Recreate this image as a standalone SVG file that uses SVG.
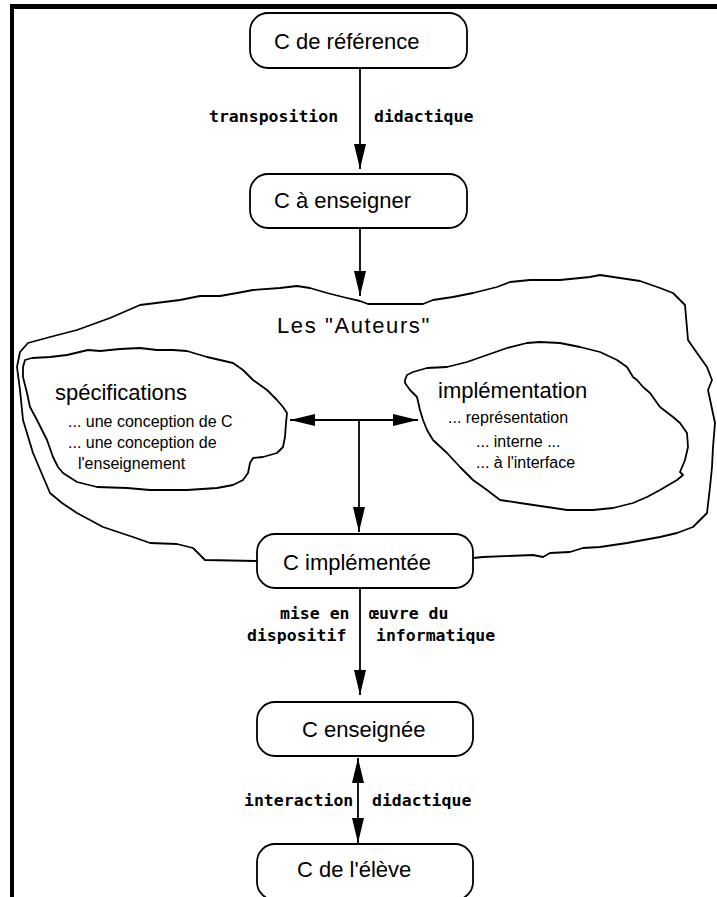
<svg xmlns="http://www.w3.org/2000/svg" width="717" height="897" viewBox="0 0 717 897">
<style>
.box{fill:#fff;stroke:#000;stroke-width:1.8}
.cloud{fill:none;stroke:#000;stroke-width:1.8;stroke-linejoin:round}
.t{font-family:"Liberation Sans",Arial,sans-serif;font-size:22px;fill:#000}
.s{font-family:"Liberation Sans",Arial,sans-serif;font-size:16px;fill:#000}
.m{font-family:"DejaVu Sans Mono",monospace;font-weight:bold;font-size:16.5px;fill:#000}
.a{font-family:"Liberation Sans",Arial,sans-serif;font-size:22px;fill:#000;letter-spacing:1.6px}
.c{stroke:#000;stroke-width:1.8;fill:none}
</style>
<defs>
<marker id="ah" markerUnits="userSpaceOnUse" markerWidth="25" markerHeight="12" refX="25" refY="6" orient="auto-start-reverse">
<path d="M0,0 L25,6 L0,12 z" fill="#000"/>
</marker>
</defs>
<rect width="717" height="897" fill="#fff"/>
<g id="frame">
<rect x="10" y="4" width="707" height="5" fill="#000"/>
<rect x="10" y="4" width="4" height="893" fill="#000"/>
</g>
<g id="auteurs">
<path class="cloud" d="M257,561 L205,560 L193,548 L177,544 L150,543 L133,537 L103,527 L77,513 L62,503 L50,493 L33,453 L23,420 L20,390 L17,367 L20,352 L28,343 L50,337 L77,330 L110,318 L140,305 L180,300 L200,296 L220,296 L237,293 L253,290 L280,288 L297,286 L310,288 L327,293 L347,298 L360,301 L368,304 L390,304 L423,304 L433,300 L453,297 L473,293 L497,287 L510,282 L530,280 L560,280 L590,277 L600,275 L620,278 L640,281 L660,288 L673,293 L685,305 L688,340 L697,353 L707,367 L712,380 L708,390 L715,423 L713,447 L712,467 L710,487 L707,513 L693,527 L677,533 L660,537 L627,543 L600,547 L583,548 L570,552 L550,553 L543,557 L533,555 L483,557 L473,558"/>
<text class="a" x="277" y="333">Les "Auteurs"</text>
</g>
<g id="specifications">
<path class="cloud" d="M25,360 L32,358 L50,357 L67,355 L88,350 L100,351 L120,349 L140,348 L157,350 L173,350 L187,351 L207,357 L233,363 L243,370 L253,380 L267,390 L277,400 L283,407 L287,413 L286,423 L285,437 L283,447 L277,453 L263,457 L253,458 L250,463 L248,473 L243,480 L233,485 L217,488 L187,490 L150,490 L127,488 L97,487 L77,482 L63,473 L58,467 L53,457 L47,440 L37,420 L30,407 L27,393 L23,377 L23,367 Z"/>
<text class="t" x="55" y="400">spécifications</text>
<text class="s" x="68" y="427">... une conception de C</text>
<text class="s" x="68" y="448">... une conception de</text>
<text class="s" x="78" y="469">l'enseignement</text>
</g>
<g id="implementation">
<path class="cloud" d="M405,380 L407,375 L413,372 L427,368 L447,367 L467,362 L487,355 L507,348 L527,343 L540,342 L560,343 L580,347 L600,352 L617,360 L627,367 L633,377 L637,380 L643,387 L650,393 L660,407 L673,417 L680,423 L687,433 L688,447 L685,460 L680,472 L683,475 L677,480 L660,490 L647,497 L633,503 L613,508 L593,510 L567,510 L547,507 L520,503 L500,500 L487,490 L473,480 L460,467 L447,453 L433,440 L427,430 L423,420 L420,410 L417,397 L410,390 L405,383 Z"/>
<text class="t" x="438" y="398">implémentation</text>
<text class="s" x="448" y="423">... représentation</text>
<text class="s" x="476" y="447">... interne ...</text>
<text class="s" x="476" y="468">... à l'interface</text>
</g>
<g id="connectors">
<line class="c" x1="360" y1="68" x2="360" y2="169" marker-end="url(#ah)"/>
<line class="c" x1="360" y1="228" x2="360" y2="296" marker-end="url(#ah)"/>
<line class="c" x1="290" y1="420" x2="418" y2="420" marker-start="url(#ah)" marker-end="url(#ah)"/>
<line class="c" x1="359" y1="420" x2="359" y2="532" marker-end="url(#ah)"/>
<line class="c" x1="360" y1="588" x2="360" y2="695" marker-end="url(#ah)"/>
<line class="c" x1="358" y1="758" x2="358" y2="843" marker-start="url(#ah)" marker-end="url(#ah)"/>
<text class="m" x="209" y="122">transposition</text>
<text class="m" x="374" y="122">didactique</text>
<text class="m" x="280" y="619">mise en</text>
<text class="m" x="247" y="641">dispositif</text>
<text class="m" x="369" y="619">œuvre du</text>
<text class="m" x="376" y="641">informatique</text>
<text class="m" x="244" y="806">interaction</text>
<text class="m" x="372" y="806">didactique</text>
</g>
<g id="c-reference">
<rect class="box" x="250" y="13" width="217" height="55" rx="18"/>
<text class="t" x="274" y="49">C de référence</text>
</g>
<g id="c-a-enseigner">
<rect class="box" x="250" y="174" width="217" height="54" rx="18"/>
<text class="t" x="274" y="208">C à enseigner</text>
</g>
<g id="c-implementee">
<rect class="box" x="257" y="534" width="216" height="54" rx="18"/>
<text class="t" x="283" y="570">C implémentée</text>
</g>
<g id="c-enseignee">
<rect class="box" x="257" y="702" width="216" height="54" rx="18"/>
<text class="t" x="302" y="737">C enseignée</text>
</g>
<g id="c-eleve">
<rect class="box" x="257" y="844" width="216" height="56" rx="18"/>
<text class="t" x="297" y="877">C de l'élève</text>
</g>
</svg>
